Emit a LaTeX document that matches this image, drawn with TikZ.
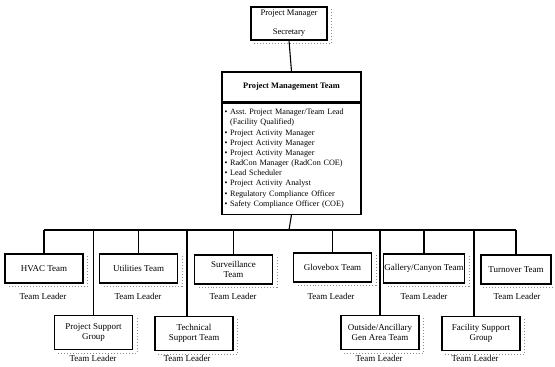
\documentclass[tikz,border=0pt]{standalone}
\usepackage{fontspec}
\setmainfont{Liberation Serif}
\begin{document}
\begin{tikzpicture}[x=1bp,y=-1bp,
  txt/.style={font=\fontsize{9}{10}\selectfont},
  box/.style={draw, line width=1.1pt, fill=white, inner sep=1bp, align=center, txt},
  upper/.style={box, minimum width=78bp, minimum height=29bp},
  lower/.style={box, minimum width=78bp, minimum height=34bp},
  lead/.style={txt, inner sep=0pt},
  link/.style={line width=1.1pt},
  shade/.style={draw=black!45, dotted, line width=1pt}]

\useasboundingbox (0,0) rectangle (555,366);

% top of the chart
\node[box, minimum width=76bp, minimum height=33bp,
      font=\fontsize{8.6}{10}\selectfont] (pm) at (289,23.5)
  {Project Manager\\[9bp]Secretary};
\node[box, minimum width=139bp, minimum height=30bp,
      font=\bfseries\fontsize{8.4}{10}\selectfont] (pmt) at (291.5,87)
  {Project Management Team};
\node[box, anchor=north, minimum width=139bp, minimum height=111bp,
      text width=134bp, align=left, inner sep=2bp,
      font=\fontsize{8.2}{10.2}\selectfont] (pmtlist) at (pmt.south)
  {\textbullet\ Asst.\ Project Manager/Team Lead\\
   \phantom{\textbullet\ }(Facility Qualified)\\
   \textbullet\ Project Activity Manager\\
   \textbullet\ Project Activity Manager\\
   \textbullet\ Project Activity Manager\\
   \textbullet\ RadCon Manager (RadCon COE)\\
   \textbullet\ Lead Scheduler\\
   \textbullet\ Project Activity Analyst\\
   \textbullet\ Regulatory Compliance Officer\\
   \textbullet\ Safety Compliance Officer (COE)};

% teams, upper row
\node[upper] (hvac) at (44,268.5) {HVAC Team};
\node[upper] (util) at (138.5,268.5) {Utilities Team};
\node[upper] (surv) at (233.5,269.5) {Surveillance\\Team};
\node[upper] (glove) at (332.5,267.5) {Glovebox Team};
\node[upper] (gal) at (424,268.5) {Gallery/Canyon Team};
\node[upper, minimum width=70bp] (turn) at (516,269.5) {Turnover Team};

% teams, lower row
\node[lower] (psg) at (93.5,332.5) {Project Support\\Group};
\node[lower] (tst) at (194,333.5) {Technical\\Support Team};
\node[lower] (oag) at (380,332.5) {Outside/Ancillary\\Gen Area Team};
\node[lower] (fsg) at (481,333.5) {Facility Support\\Group};

% drop points on the team boxes
\coordinate (dhvac) at (hvac.north);
\coordinate (dutil) at (util.north);
\coordinate (dsurv) at (surv.north);
\coordinate (dglove) at (glove.north);
\coordinate (dgal) at (gal.north);
\coordinate (dturn) at (turn.north);
\coordinate (dpsg) at (psg.north);
\coordinate (dtst) at ([xshift=-7bp]tst.north);
\coordinate (doag) at (oag.north);
\coordinate (dfsg) at ([xshift=-7bp]fsg.north);
\coordinate (bus) at (289,230);

% team leader captions
\node[lead] (lhvac) at (43,296) {Team Leader};
\node[lead] (lutil) at (138,296) {Team Leader};
\node[lead] (lsurv) at (233,296) {Team Leader};
\node[lead] (lglove) at (331,296) {Team Leader};
\node[lead] (lgal) at (424,296) {Team Leader};
\node[lead] (lturn) at (517,296) {Team Leader};
\node[lead] (lpsg) at (93,358) {Team Leader};
\node[lead] (ltst) at (187,358) {Team Leader};
\node[lead] (loag) at (379,358) {Team Leader};
\node[lead] (lfsg) at (475,358) {Team Leader};

% connectors
\draw[link] (pm.south) -- (pmt.north);
\draw[link] (pmtlist.south) -- (bus);
\draw[link] (dhvac |- bus) -- (dturn |- bus);
\foreach \d in {dhvac,dutil,dsurv,dglove,dgal,dturn,dpsg,dtst,doag,dfsg}
  \draw[link] (\d |- bus) -- (\d);

% dotted drop shadows
\foreach \n in {pm,hvac,util,surv,glove,gal,turn,psg,tst,oag,fsg}
  \draw[shade] ([xshift=4bp,yshift=-3bp]\n.north east)
    -- ([xshift=4bp,yshift=-3bp]\n.south east)
    -- ([xshift=3bp,yshift=-3bp]\n.south west);
\end{tikzpicture}
\end{document}
